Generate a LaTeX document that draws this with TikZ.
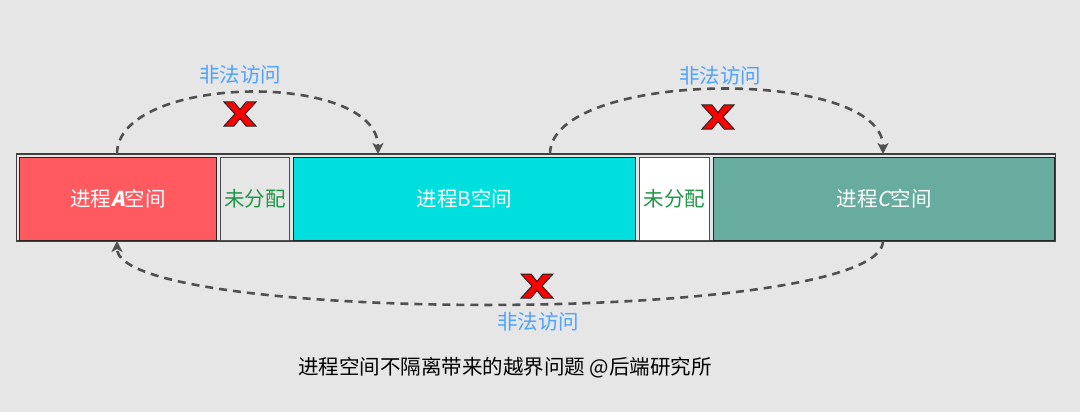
\documentclass[tikz,border=0pt]{standalone}
\usepackage{fontspec}
\setmainfont{Noto Sans CJK SC}
\newfontfamily\abi{Noto Sans CJK SC}[FakeSlant=0.2]
\usetikzlibrary{arrows.meta}
\definecolor{bg}{RGB}{230,230,230}
\definecolor{pa}{RGB}{255,90,95}
\definecolor{pb}{RGB}{0,222,222}
\definecolor{pc}{RGB}{104,172,160}
\definecolor{grn}{RGB}{30,150,70}
\definecolor{blu}{RGB}{77,163,255}
\definecolor{arc}{RGB}{80,80,80}
\definecolor{xred}{RGB}{255,0,0}
\tikzset{
  procbox/.style={draw=black!85, line width=1.2pt, inner sep=0pt, anchor=north west},
  lbl/.style={font=\fontsize{20.5}{23}\selectfont},
  illegal/.style={draw=arc, line width=2.6pt, dash pattern=on 8pt off 6pt, -{Stealth[length=11pt,width=11pt,inset=3pt]}},
  acclabel/.style={text=blu, font=\fontsize{20.5}{23}\selectfont},
  xmark/.style={fill=xred, draw=black!85, line width=1pt, line join=miter},
}
\newcommand{\xmk}[2]{%
  \filldraw[xmark, shift={(#1,#2)}] (-16,-12) -- (-6,-12) -- (0,-4.5) -- (6,-12) -- (16,-12) -- (5,0) -- (16,12) -- (6,12) -- (0,4.5) -- (-6,12) -- (-16,12) -- (-5,0) -- cycle;}
\begin{document}
\begin{tikzpicture}[x=1pt,y=-1pt]
\fill[bg] (0,0) rectangle (1080,412);
\useasboundingbox (0,0) rectangle (1080,412);
% outer bar
\draw[draw=black!75, line width=1.3pt] (16.5,154) rectangle (1055.5,241);
% boxes
\node[procbox, fill=pa, minimum width=197pt, minimum height=83pt, text=white, lbl] (A) at (19,156.5) {进程{\abi\bfseries A}空间};
\node[procbox, draw=black!70, fill=bg, minimum width=69pt, minimum height=83pt, text=grn, lbl] (U1) at (220,156.5) {未分配};
\node[procbox, fill=pb, minimum width=342pt, minimum height=83pt, text=white, lbl] (B) at (293,156.5) {进程B空间};
\node[procbox, draw=black!70, fill=white, minimum width=70pt, minimum height=83pt, text=grn, lbl] (U2) at (639,156.5) {未分配};
\node[procbox, fill=pc, minimum width=341pt, minimum height=83pt, text=white, lbl] (C) at (713,156.5) {进程{\abi C}空间};
% anchor coordinates
\coordinate (a1) at (117,154);
\coordinate (b1) at (378,154);
\coordinate (b2) at (550,154);
\coordinate (c1) at (883,154);
\coordinate (c2) at (883,241);
\coordinate (a2) at (117,241);
% arcs
\draw[illegal] (a1) .. controls (117,74) and (378,70) .. (b1);
\draw[illegal] (b2) .. controls (550,70) and (883,66) .. (c1);
\draw[illegal] (c2) .. controls (883,325) and (117,325) .. (a2);
% labels
\node[acclabel] (l1) at (240,75) {非法访问};
\node[acclabel] (l2) at (720,76) {非法访问};
\node[acclabel] (l3) at (538,322) {非法访问};
% x marks
\xmk{240}{114}
\xmk{718}{117}
\xmk{537}{286}
% caption
\node[font=\fontsize{20.5}{23}\selectfont, text=black] (cap) at (505,368) {进程空间不隔离带来的越界问题 @后端研究所};
\end{tikzpicture}
\end{document}
